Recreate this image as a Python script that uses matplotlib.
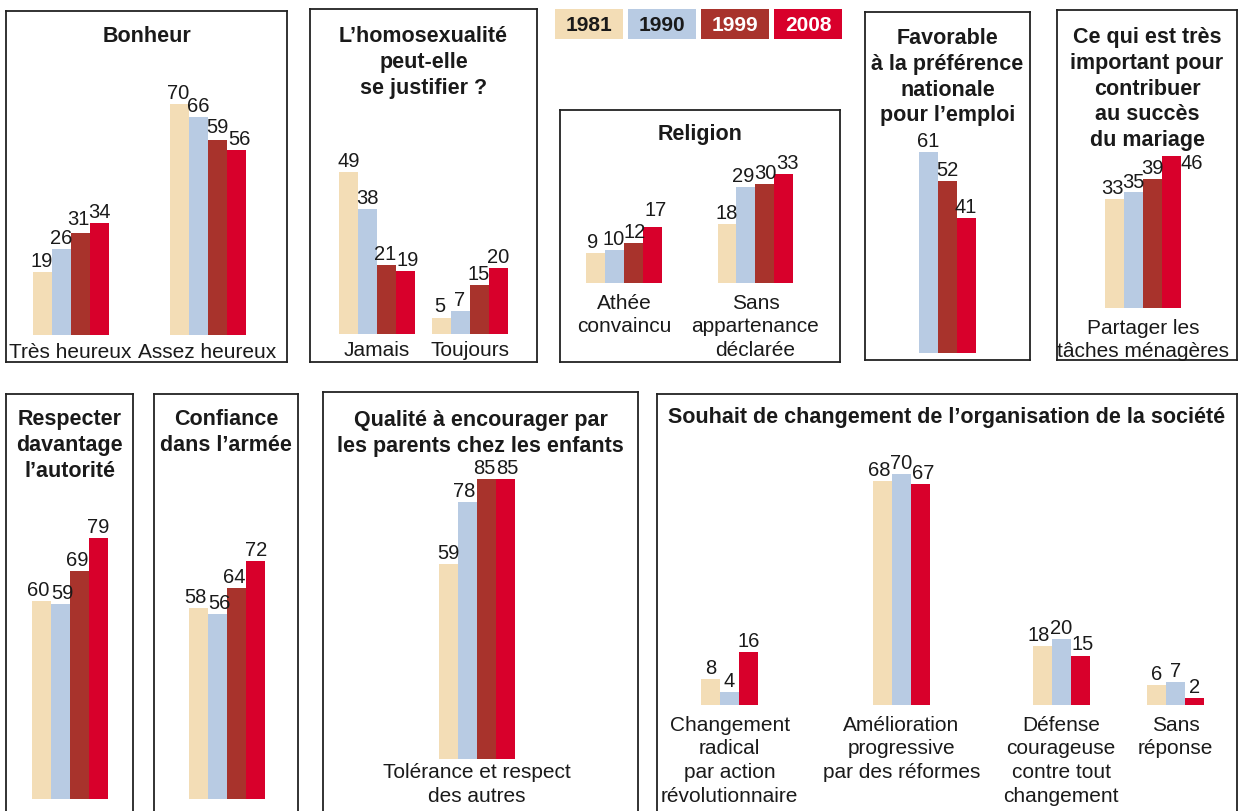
import matplotlib.pyplot as plt

# --- Configuration ---
W, H = 1238, 811
DPI = 100
PX_PER_UNIT = 3.3   # bar height in pixels per percentage point
BAR_W = 19          # bar width in pixels
PT_PER_PX = 72 / DPI
OUTPUT_IMAGE = "out.png"

TITLE_FS = 15.5
CAT_FS = 15
VAL_FS = 14.5

plt.rcParams['font.family'] = ['Liberation Sans', 'DejaVu Sans']
TXT = "#1a1a1a"

YEARS = ["1981", "1990", "1999", "2008"]
COLORS = {"1981": "#f3ddb6", "1990": "#b8cbe3", "1999": "#a8332c", "2008": "#d8002b"}
LEGEND_TXT = {"1981": "#1a1a1a", "1990": "#1a1a1a", "1999": "white", "2008": "white"}

# --- Data (rows = categories, columns = years) ---
bonheur_cats = ["Très heureux", "Assez heureux"]
bonheur_vals = [[19, 26, 31, 34], [70, 66, 59, 56]]

homo_cats = ["Jamais", "Toujours"]
homo_vals = [[49, 38, 21, 19], [5, 7, 15, 20]]

religion_cats = ["Athée\nconvaincu", "Sans\nappartenance\ndéclarée"]
religion_vals = [[9, 10, 12, 17], [18, 29, 30, 33]]

pref_years = ["1990", "1999", "2008"]
pref_cats = [""]
pref_vals = [[61, 52, 41]]

mariage_cats = ["Partager les\ntâches ménagères"]
mariage_vals = [[33, 35, 39, 46]]

autorite_cats = [""]
autorite_vals = [[60, 59, 69, 79]]

armee_cats = [""]
armee_vals = [[58, 56, 64, 72]]

enfants_cats = ["Tolérance et respect\ndes autres"]
enfants_vals = [[59, 78, 85, 85]]

societe_years = ["1981", "1990", "2008"]
societe_cats = ["Changement\nradical\npar action\nrévolutionnaire",
                "Amélioration\nprogressive\npar des réformes",
                "Défense\ncourageuse\ncontre tout\nchangement",
                "Sans\nréponse"]
societe_vals = [[8, 4, 16], [68, 70, 67], [18, 20, 15], [6, 7, 2]]


def panel(fig, box, baseline, title, title_top, years, cats, vals, centers,
          cat_top, open_bottom=False, nudges=None):
    """Draws one framed panel. box = (left, top, right, bottom) in pixels.
    nudges: {(category, year_index): (dx_px, dy_px)} to move a value label."""
    nudges = nudges or {}
    l, t, r, b = box
    ax = fig.add_axes([l / W, 1 - b / H, (r - l) / W, (b - t) / H])
    ax.set_xlim(0, r - l)
    ax.set_ylim(-(b - baseline) / PX_PER_UNIT, (baseline - t) / PX_PER_UNIT)
    ax.set_xticks([])
    ax.set_yticks([])
    for s in ax.spines.values():
        s.set_linewidth(1.3)
        s.set_color("#222222")
    if open_bottom:
        ax.spines['bottom'].set_visible(False)

    def ydata(py):
        return (baseline - py) / PX_PER_UNIT

    n = len(years)
    for j, year in enumerate(years):
        xs = [c + (j - (n - 1) / 2) * BAR_W for c in centers]
        hs = [row[j] for row in vals]
        ax.bar(xs, hs, width=BAR_W, color=COLORS[year], linewidth=0)
        for i, (x, v) in enumerate(zip(xs, hs)):
            dx, dy = nudges.get((i, j), (0, 0))
            ax.annotate(str(v), (x, v), xytext=(dx * PT_PER_PX, (dy + 1) * PT_PER_PX),
                        textcoords='offset points', ha='center', va='bottom',
                        fontsize=VAL_FS, color=TXT)

    ax.text((r - l) / 2, ydata(title_top), title, ha='center', va='top',
            fontsize=TITLE_FS, fontweight='bold', color=TXT, linespacing=1.3)

    for c, cat in zip(centers, cats):
        if cat:
            ax.text(c, ydata(cat_top), cat, ha='center', va='top',
                    fontsize=CAT_FS, color=TXT, linespacing=1.3)
    return ax


def main():
    fig = plt.figure(figsize=(W / DPI, H / DPI), dpi=DPI)

    # Row 1
    panel(fig, (6, 11, 287, 362), 335, "Bonheur", 26, YEARS,
          bonheur_cats, bonheur_vals, [64.5, 201.5], 343,
          nudges={(0, 2): (-2, 3), (1, 0): (-1, 0), (1, 2): (0, 2), (1, 3): (3, 0)})
    panel(fig, (310, 9, 537, 362), 334, "L’homosexualité\npeut-elle\nse justifier ?", 26,
          YEARS, homo_cats, homo_vals, [67, 159.5], 341,
          nudges={(0, 2): (-1, 0), (0, 3): (2, 0), (1, 0): (-1, 0)})
    panel(fig, (560, 110, 840, 362), 283, "Religion", 124, YEARS,
          religion_cats, religion_vals, [64, 195.5], 294,
          nudges={(0, 0): (-3, 0), (0, 1): (-1, 0), (0, 2): (1, 0), (0, 3): (3, 6),
                  (1, 1): (-3, 0), (1, 3): (3, 0)})
    panel(fig, (865, 12, 1030, 360), 353,
          "Favorable\nà la préférence\nnationale\npour l’emploi", 28,
          pref_years, pref_cats, pref_vals, [82], 361)
    panel(fig, (1057, 10, 1237, 360), 308,
          "Ce qui est très\nimportant pour\ncontribuer\nau succès\ndu mariage", 27,
          YEARS, mariage_cats, mariage_vals, [86], 319,
          nudges={(0, 0): (-2, 0), (0, 3): (20, -18)})

    # Row 2
    panel(fig, (6, 394, 133, 811), 799, "Respecter\ndavantage\nl’autorité", 409,
          YEARS, autorite_cats, autorite_vals, [63.5], 807, open_bottom=True,
          nudges={(0, 0): (-3, 0), (0, 1): (2, 0), (0, 2): (-2, 0)})
    panel(fig, (154, 394, 298, 811), 799, "Confiance\ndans l’armée", 409,
          YEARS, armee_cats, armee_vals, [72.5], 807, open_bottom=True,
          nudges={(0, 0): (-3, 0), (0, 1): (2, 0), (0, 2): (-2, 0), (0, 3): (1, 0)})
    panel(fig, (323, 392, 638, 811), 759,
          "Qualité à encourager par\nles parents chez les enfants", 410,
          YEARS, enfants_cats, enfants_vals, [154], 763, open_bottom=True,
          nudges={(0, 1): (-3, 0), (0, 2): (-2, 0), (0, 3): (2, 0)})
    panel(fig, (657, 394, 1237, 811), 705,
          "Souhait de changement de l’organisation de la société", 407,
          societe_years, societe_cats, societe_vals,
          [72.6, 244.5, 404, 518.5], 716, open_bottom=True,
          nudges={(1, 0): (-3, 0), (1, 2): (3, 0), (2, 0): (-3, 0), (2, 2): (3, 0)})

    # Legend: coloured year boxes
    lx0, ly0, lx1, ly1 = 555, 9, 842, 39
    lax = fig.add_axes([lx0 / W, 1 - ly1 / H, (lx1 - lx0) / W, (ly1 - ly0) / H])
    lax.set_xlim(0, lx1 - lx0)
    lax.set_ylim(0, 1)
    lax.axis('off')
    step = 73
    for j, year in enumerate(YEARS):
        xc = j * step + 34
        lax.bar(xc, 1, width=68, color=COLORS[year], linewidth=0, align='center')
        lax.text(xc, 0.46, year, ha='center', va='center', fontsize=15,
                 fontweight='bold', color=LEGEND_TXT[year])

    fig.savefig(OUTPUT_IMAGE, dpi=DPI, facecolor='white')


if __name__ == "__main__":
    main()
